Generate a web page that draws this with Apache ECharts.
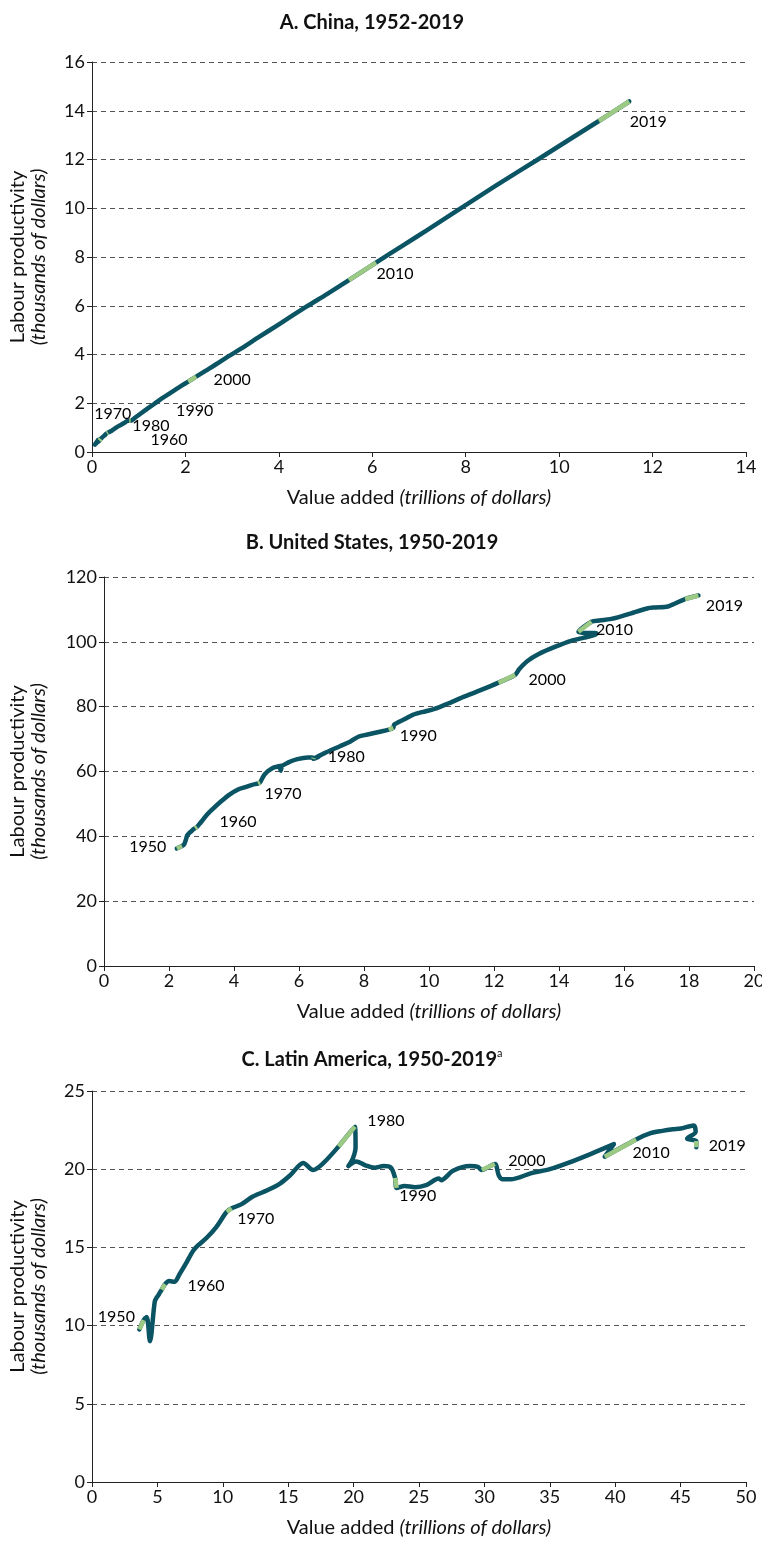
<!DOCTYPE html>
<html>
<head>
<meta charset="utf-8">
<script src="https://cdn.jsdelivr.net/npm/echarts@6/dist/echarts.min.js"></script>
<style>
  html, body { margin: 0; padding: 0; background: #ffffff; }
  #chart { width: 762px; height: 1541px; }
</style>
</head>
<body>
<div id="chart"></div>
<script>
// ---------------- DATA ----------------
// Panel A: China, 1952-2019 (value added, trillions of dollars; labour productivity, thousands of dollars)
const chinaStartYear = 1952;
const chinaValueAdded = [
  0.062,0.072,0.075,0.080,0.092,0.097,0.117,0.128,0.128,
  0.093,0.088,0.097,0.115,0.134,0.149,0.140,0.134,0.157,0.187,
  0.200,0.208,0.224,0.229,0.249,0.245,0.264,0.294,0.317,0.341,
  0.359,0.391,0.433,0.499,0.566,0.616,0.688,0.765,0.797,0.828,
  0.905,1.03,1.18,1.33,1.48,1.62,1.77,1.91,2.06,2.23,
  2.42,2.64,2.90,3.19,3.56,4.01,4.58,5.03,5.50,6.08,
  6.66,7.19,7.75,8.33,8.91,9.51,10.17,10.85,11.50
];
const chinaProductivity = [
  0.30,0.34,0.34,0.36,0.40,0.41,0.44,0.49,0.49,
  0.36,0.34,0.36,0.42,0.47,0.50,0.45,0.42,0.47,0.54,
  0.56,0.58,0.61,0.61,0.65,0.63,0.67,0.73,0.77,0.80,
  0.81,0.84,0.89,0.98,1.06,1.11,1.19,1.28,1.28,1.28,
  1.38,1.56,1.77,1.97,2.18,2.35,2.54,2.71,2.89,3.09,
  3.32,3.58,3.90,4.24,4.70,5.25,5.95,6.48,7.05,7.77,
  8.48,9.12,9.82,10.54,11.25,11.96,12.76,13.58,14.38
];
const chinaLabelYears = [1960,1970,1980,1990,2000,2010,2019];

// Panel B: United States, 1950-2019
const usStartYear = 1950;
const usValueAdded = [
  2.24,2.40,2.47,2.53,2.56,2.64,2.68,2.72,2.74,2.80,2.86,
  2.97,3.18,3.35,3.58,3.85,4.14,4.29,4.56,4.74,4.80,
  4.94,5.19,5.47,5.44,5.42,5.70,5.95,6.27,6.45,6.44,
  6.60,6.47,6.77,7.26,7.57,7.84,8.11,8.45,8.76,8.90,
  8.93,9.24,9.50,9.90,10.17,10.57,11.06,11.57,12.14,12.65,
  12.78,13.02,13.39,13.89,14.37,14.77,15.05,15.16,14.60,15.00,
  15.24,15.57,15.84,16.22,16.71,16.96,17.35,17.88,18.29
];
const usProductivity = [
  36.3,37.0,37.6,39.3,40.3,41.2,41.5,41.9,42.1,42.5,42.9,
  44.2,46.8,48.5,50.6,52.8,54.5,55.0,55.9,56.3,56.6,
  59.1,61.1,61.8,60.2,61.0,62.9,63.8,64.3,64.2,63.9,
  64.5,64.0,65.6,67.8,69.2,70.8,71.4,72.2,72.9,73.5,
  74.5,76.1,77.5,78.6,79.3,80.9,83.0,85.0,87.4,89.8,
  91.6,94.0,96.3,98.5,100.3,101.3,102.0,102.6,103.1,106.2,
  106.6,107.0,107.6,108.8,110.3,110.6,110.9,113.2,114.3
];
const usLabelYears = [1950,1960,1970,1980,1990,2000,2010,2019];

// Panel C: Latin America, 1950-2019
const laStartYear = 1950;
const laValueAdded = [
  3.62,3.95,4.18,4.43,4.80,4.95,5.08,5.18,5.25,5.33,5.58,
  5.90,6.30,6.70,7.20,7.75,8.20,8.75,9.50,10.30,10.68,
  11.4,12.3,13.4,14.4,15.2,16.15,16.9,17.7,18.85,20.1,
  20.15,19.95,19.6,20.2,20.9,21.6,22.3,22.85,23.17,23.3,
  23.9,24.7,25.6,26.5,26.7,27.6,28.9,29.5,29.8,30.8,
  31.1,31.4,32.0,33.6,35.0,36.4,38.2,39.9,39.2,41.6,
  42.7,43.6,44.4,45.0,46.0,46.15,45.5,46.2,46.2
];
const laProductivity = [
  9.76,10.35,10.55,9.0,11.55,11.8,11.95,12.1,12.2,12.3,12.65,
  12.85,12.8,13.3,14.0,14.8,15.2,15.6,16.3,17.28,17.5,
  17.75,18.25,18.65,19.1,19.65,20.4,19.95,20.4,21.45,22.72,
  21.4,20.7,20.2,20.5,20.25,20.1,20.2,20.1,19.45,18.8,
  18.93,18.85,19.0,19.4,19.3,19.9,20.2,20.15,19.95,20.33,
  19.6,19.35,19.35,19.75,20.0,20.4,21.0,21.6,20.8,21.9,
  22.3,22.45,22.55,22.6,22.8,22.4,21.95,21.8,21.4
];
const laLabelYears = [1950,1960,1970,1980,1990,2000,2010,2019];

// Axis tick settings (ranges)
const chinaXAxis = { min: 0, max: 14, interval: 2 };
const chinaYAxis = { min: 0, max: 16, interval: 2 };
const usXAxis = { min: 0, max: 20, interval: 2 };
const usYAxis = { min: 0, max: 120, interval: 20 };
const laXAxis = { min: 0, max: 50, interval: 5 };
const laYAxis = { min: 0, max: 25, interval: 5 };

// Text
const titles = ['A. China, 1952-2019', 'B. United States, 1950-2019', 'C. Latin America, 1950-2019'];
const xName = ['Value added ', '(trillions of dollars)'];
const yName = ['Labour productivity', '(thousands of dollars)'];

// ---------------- STYLE / LAYOUT ----------------
const FONT = 'Lato, "Open Sans", sans-serif';
const TXT = '#111111';
const DARK = '#0b5464';
const GREEN = '#9cc983';
const LW = 4.5;

// pixel offsets of year labels from their data point
const labelOffsets = [
  {1960:[71,0],1970:[12,-25],1980:[43,-7],1990:[64,-10],2000:[36,3],2010:[19,11],2019:[19,20]},
  {1950:[-29,-1],1960:[41,-5],1970:[23,11],1980:[33,-2],1990:[25,8],2000:[32,5],2010:[23,8],2019:[26,10]},
  {1950:[-23,-13],1960:[41,2],1970:[24,11],1980:[31,-6],1990:[21,8],2000:[32,-3],2010:[15,13],2019:[31,-1]}
];

const grids = [
  { left: 92, right: 16, top: 62, height: 390 },
  { left: 104, right: 8, top: 577, height: 389 },
  { left: 92, right: 16, top: 1091, height: 391 }
];
const titleY = [23, 543, 1060];

const panels = [
  { start: chinaStartYear, va: chinaValueAdded, pr: chinaProductivity, years: chinaLabelYears, xa: chinaXAxis, ya: chinaYAxis },
  { start: usStartYear, va: usValueAdded, pr: usProductivity, years: usLabelYears, xa: usXAxis, ya: usYAxis },
  { start: laStartYear, va: laValueAdded, pr: laProductivity, years: laLabelYears, xa: laXAxis, ya: laYAxis }
];

const axisLineStyle = { color: '#222', width: 1 };
const xAxes = [], yAxes = [], series = [];

panels.forEach((p, g) => {
  xAxes.push({
    type: 'value', gridIndex: g, min: p.xa.min, max: p.xa.max, interval: p.xa.interval,
    axisLine: { show: true, onZero: false, lineStyle: axisLineStyle },
    axisTick: { show: true, length: 5, lineStyle: axisLineStyle },
    axisLabel: { fontFamily: FONT, fontSize: 18, color: TXT, margin: 6 },
    splitLine: { show: false },
    name: '{n|' + xName[0] + '}{i|' + xName[1] + '}',
    nameLocation: 'middle', nameGap: 34,
    nameTextStyle: {
      rich: {
        n: { fontFamily: FONT, fontSize: 20, color: TXT, lineHeight: 24 },
        i: { fontFamily: FONT, fontSize: 20, color: TXT, fontStyle: 'italic', lineHeight: 24 }
      }
    }
  });
  yAxes.push({
    type: 'value', gridIndex: g, min: p.ya.min, max: p.ya.max, interval: p.ya.interval,
    axisLine: { show: true, lineStyle: axisLineStyle },
    axisTick: { show: true, length: 5, lineStyle: axisLineStyle },
    axisLabel: { fontFamily: FONT, fontSize: 18, color: TXT, margin: 7 },
    splitLine: { show: true, lineStyle: { color: '#555', width: 1, type: [5, 4] } },
    name: '{n|' + yName[0] + '}\n{i|' + yName[1] + '}',
    nameLocation: 'middle', nameRotate: 90, nameGap: g === 1 ? 55 : 43,
    nameTextStyle: {
      rich: {
        n: { fontFamily: FONT, fontSize: 20, color: TXT, lineHeight: 21 },
        i: { fontFamily: FONT, fontSize: 20, color: TXT, fontStyle: 'italic', lineHeight: 21 }
      }
    }
  });

  const pts = p.va.map((x, i) => [x, p.pr[i]]);
  series.push({
    type: 'line', xAxisIndex: g, yAxisIndex: g, data: pts,
    showSymbol: false, symbol: 'none', smooth: 0.3, silent: true, z: 2,
    lineStyle: { color: DARK, width: LW, cap: 'round', join: 'round' }
  });
  p.years.forEach(y => {
    const i = y - p.start;
    const seg = i === 0 ? [pts[0], pts[1]] : [pts[i - 1], pts[i]];
    series.push({
      type: 'line', xAxisIndex: g, yAxisIndex: g, data: seg,
      showSymbol: false, symbol: 'none', silent: true, z: 3,
      lineStyle: { color: GREEN, width: LW, cap: 'butt' }
    });
  });
  series.push({
    type: 'scatter', xAxisIndex: g, yAxisIndex: g, silent: true, z: 4,
    symbolSize: 1, itemStyle: { color: 'rgba(0,0,0,0)' },
    data: p.years.map(y => {
      const i = y - p.start;
      return {
        name: String(y), value: pts[i],
        label: { offset: labelOffsets[g][y] }
      };
    }),
    label: {
      show: true, position: 'inside', formatter: '{b}',
      fontFamily: FONT, fontSize: 16, color: '#000', opacity: 1,
      textBorderWidth: 0
    }
  });
});

const graphics = titles.map((t, g) => ({
  type: 'text', x: 372, y: titleY[g], silent: true,
  style: {
    text: g === 2 ? '{t|' + t + '}{s|a}' : '{t|' + t + '}',
    align: 'center', verticalAlign: 'middle',
    textAlign: 'center', textVerticalAlign: 'middle',
    rich: {
      t: { fontFamily: FONT, fontSize: 20, fontWeight: 'bold', fill: TXT, color: TXT, lineHeight: 24 },
      s: { fontFamily: FONT, fontSize: 11, fill: TXT, color: TXT, verticalAlign: 'top', lineHeight: 24 }
    }
  }
}));

const chart = echarts.init(document.getElementById('chart'), null, { renderer: 'canvas' });
chart.setOption({
  backgroundColor: '#ffffff',
  animation: false,
  grid: grids.map(g => Object.assign({ outerBoundsMode: 'none', containLabel: false }, g)),
  xAxis: xAxes,
  yAxis: yAxes,
  series: series,
  graphic: graphics
});
</script>
</body>
</html>
